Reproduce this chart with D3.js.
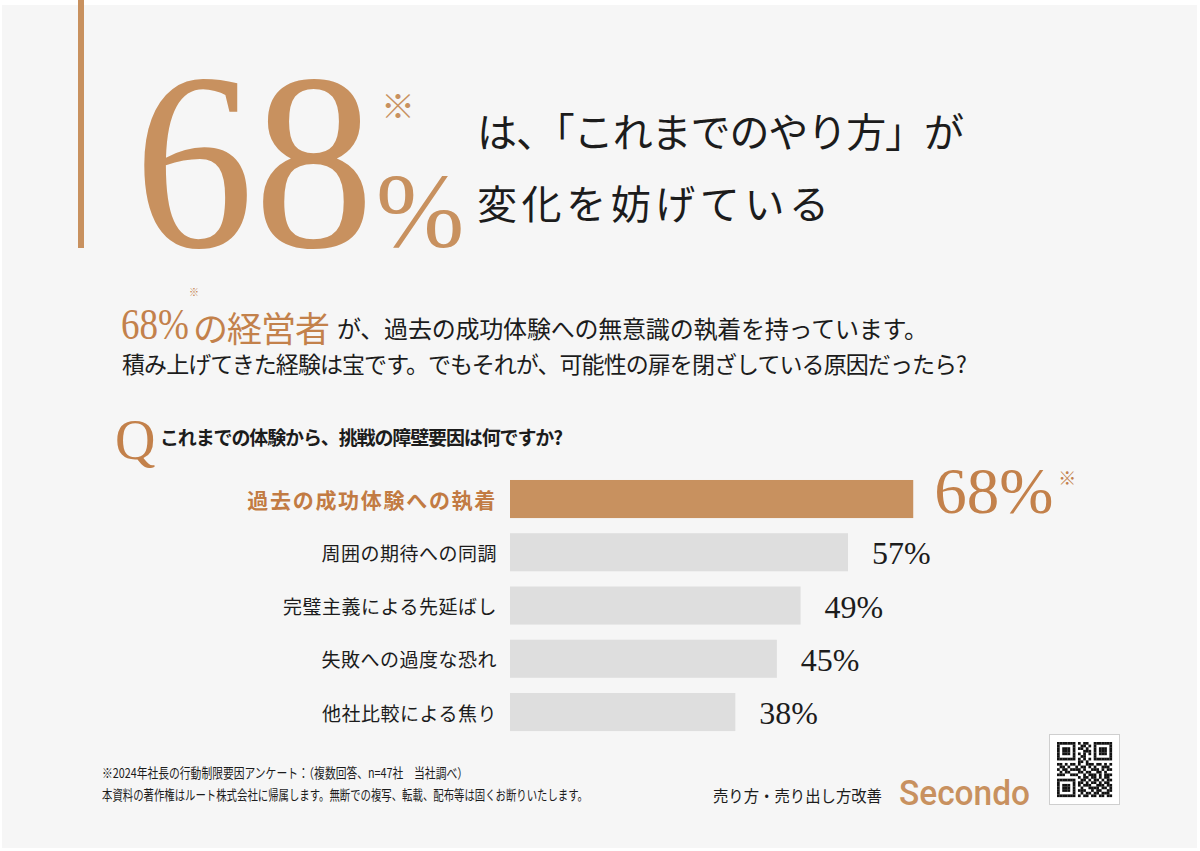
<!DOCTYPE html>
<html>
<head>
<meta charset="utf-8">
<script src="https://cdn.jsdelivr.net/npm/d3@7/dist/d3.min.js"></script>
<style>
  body { margin: 0; background: #ffffff; }
  svg { display: block; }
  .jp { font-family: "Noto Sans CJK JP", sans-serif; }
  .serif { font-family: "Liberation Serif", "DejaVu Serif", serif; }
</style>
</head>
<body>
<div id="chart"></div>
<script>
// survey answers (share of respondents, %)
var categories = [
  "過去の成功体験への執着",
  "周囲の期待への同調",
  "完璧主義による先延ばし",
  "失敗への過度な恐れ",
  "他社比較による焦り"
];
var values = [68, 57, 49, 45, 38];
var highlighted = [true, false, false, false, false];

var titleLines = ["は、「これまでのやり方」が", "変化を妨げている"];
var leadLines = ["が、過去の成功体験への無意識の執着を持っています。",
                 "積み上げてきた経験は宝です。でもそれが、可能性の扉を閉ざしている原因だったら?"];
var question = "これまでの体験から、挑戦の障壁要因は何ですか?";
var notes = ["※2024年社長の行動制限要因アンケート：（複数回答、n=47社　当社調べ）",
             "本資料の著作権はルート株式会社に帰属します。無断での複写、転載、配布等は固くお断りいたします。"];

// decorative code block in the corner
var qrRows = [
  "111111101011001111111",
  "100000100110101000001",
  "101110101101001011101",
  "101110100011101011101",
  "101110101010101011101",
  "100000100110001000001",
  "111111101010101111111",
  "000000001101000000000",
  "110101101001110110101",
  "011010010110101001110",
  "101101111010011101011",
  "010110001101100110100",
  "111001110010111010111",
  "000000001011011010110",
  "111111100110101101011",
  "100000101101011010110",
  "101110101011100111011",
  "101110100100111101101",
  "101110101110010110011",
  "100000100101101101110",
  "111111101011011011011"
];

var W = 1200, H = 851;
var orange = "#c8915f",
    orangeText = "#c3814b",
    grey = "#dedede",
    ink = "#1c1c1c";

var svg = d3.select("#chart").append("svg")
    .attr("width", W)
    .attr("height", H);

// card background
svg.append("rect")
    .attr("x", 2).attr("y", 5)
    .attr("width", W - 5).attr("height", 843)
    .attr("fill", "#f6f6f6");

// left accent rule
svg.append("rect")
    .attr("x", 78).attr("y", 0)
    .attr("width", 6).attr("height", 248)
    .attr("fill", orange);

// big headline number
var topValue = values[0];
svg.append("text")
    .attr("class", "serif")
    .attr("x", 134).attr("y", 247)
    .attr("font-size", 252)
    .attr("fill", orange)
    .attr("textLength", 240)
    .attr("lengthAdjust", "spacingAndGlyphs")
    .text(topValue);

svg.append("text")
    .attr("class", "serif")
    .attr("x", 376).attr("y", 247)
    .attr("font-size", 106)
    .attr("fill", orange)
    .text("%");

svg.append("text")
    .attr("class", "jp")
    .attr("x", 398).attr("y", 104)
    .attr("text-anchor", "middle")
    .attr("dominant-baseline", "central")
    .attr("font-size", 34)
    .attr("fill", orange)
    .text("※");

svg.selectAll("text.title")
    .data(titleLines)
    .enter()
    .append("text")
    .attr("class", "title jp")
    .attr("x", 477)
    .attr("y", (d, i) => 130 + i * 72)
    .attr("dominant-baseline", "central")
    .attr("font-size", 40)
    .attr("fill", ink)
    .attr("textLength", (d, i) => i === 0 ? 487 : 352)
    .attr("lengthAdjust", "spacing")
    .text(d => d);

// lead paragraph
svg.append("text")
    .attr("class", "serif")
    .attr("x", 121).attr("y", 339)
    .attr("font-size", 44)
    .attr("fill", orangeText)
    .attr("textLength", 68)
    .attr("lengthAdjust", "spacingAndGlyphs")
    .text(topValue + "%");

svg.append("text")
    .attr("class", "jp")
    .attr("x", 189).attr("y", 291)
    .attr("dominant-baseline", "central")
    .attr("font-size", 10)
    .attr("fill", orangeText)
    .text("※");

svg.append("text")
    .attr("class", "jp")
    .attr("x", 193).attr("y", 326)
    .attr("dominant-baseline", "central")
    .attr("font-size", 35)
    .attr("fill", orangeText)
    .attr("textLength", 137)
    .attr("lengthAdjust", "spacing")
    .text("の経営者");

svg.selectAll("text.lead")
    .data(leadLines)
    .enter()
    .append("text")
    .attr("class", "lead jp")
    .attr("x", (d, i) => i === 0 ? 337 : 122)
    .attr("y", (d, i) => i === 0 ? 327 : 363)
    .attr("dominant-baseline", "central")
    .attr("font-size", (d, i) => i === 0 ? 24 : 23)
    .attr("fill", ink)
    .attr("textLength", (d, i) => i === 0 ? 591 : 845)
    .attr("lengthAdjust", "spacing")
    .text(d => d);

// question
svg.append("text")
    .attr("class", "serif")
    .attr("x", 115).attr("y", 459)
    .attr("font-size", 56)
    .attr("fill", orangeText)
    .text("Q");

svg.append("text")
    .attr("class", "jp")
    .attr("x", 160).attr("y", 436)
    .attr("dominant-baseline", "central")
    .attr("font-size", 19)
    .attr("font-weight", 700)
    .attr("fill", ink)
    .attr("textLength", 403)
    .attr("lengthAdjust", "spacing")
    .text(question);

// bar chart
var x = d3.scaleLinear()
    .domain([0, 100])
    .range([510, 1103]);

var y = d3.scaleBand()
    .domain(categories)
    .range([472.4, 738.65])
    .paddingInner(0.285)
    .paddingOuter(0.1425);

var rows = categories.map((c, i) => ({ cat: c, value: values[i], hi: highlighted[i] }));

var bars = svg.append("g").attr("class", "bars");

bars.selectAll("rect.bar")
    .data(rows)
    .enter()
    .append("rect")
    .attr("class", "bar")
    .attr("x", x(0))
    .attr("y", d => y(d.cat))
    .attr("width", d => x(d.value) - x(0))
    .attr("height", y.bandwidth())
    .attr("fill", d => d.hi ? orange : grey);

bars.selectAll("text.cat")
    .data(rows)
    .enter()
    .append("text")
    .attr("class", "cat jp")
    .attr("x", x(0) - 13)
    .attr("y", d => y(d.cat) + y.bandwidth() / 2)
    .attr("text-anchor", "end")
    .attr("dominant-baseline", "central")
    .attr("font-size", d => d.hi ? 21 : 19)
    .attr("letter-spacing", d => d.hi ? 1.7 : 0.5)
    .attr("font-weight", d => d.hi ? 700 : 400)
    .attr("fill", d => d.hi ? "#c27b43" : ink)
    .text(d => d.cat);

bars.selectAll("text.val")
    .data(rows)
    .enter()
    .append("text")
    .attr("class", "val serif")
    .attr("x", d => x(d.value) + (d.hi ? 21 : 24))
    .attr("y", d => y(d.cat) + y.bandwidth() / 2 + (d.hi ? 14 : 12))
    .attr("font-size", d => d.hi ? 65 : 32)
    .attr("fill", d => d.hi ? orangeText : ink)
    .text(d => d.value + "%");

// footnote mark next to the highlighted value
rows.filter(d => d.hi).forEach(d => {
  bars.append("text")
      .attr("class", "jp")
      .attr("x", x(d.value) + 145)
      .attr("y", y(d.cat) - 3)
      .attr("dominant-baseline", "central")
      .attr("font-size", 18)
      .attr("fill", orangeText)
      .text("※");
});

// footer
svg.selectAll("text.note")
    .data(notes)
    .enter()
    .append("text")
    .attr("class", "note jp")
    .attr("x", 102)
    .attr("y", (d, i) => 772 + i * 22)
    .attr("dominant-baseline", "central")
    .attr("font-size", 13.5)
    .attr("fill", ink)
    .attr("textLength", (d, i) => i === 0 ? 366 : 486)
    .attr("lengthAdjust", "spacingAndGlyphs")
    .text(d => d);

svg.append("text")
    .attr("class", "jp")
    .attr("x", 713).attr("y", 795)
    .attr("dominant-baseline", "central")
    .attr("font-size", 16)
    .attr("fill", ink)
    .attr("textLength", 169)
    .attr("lengthAdjust", "spacingAndGlyphs")
    .text("売り方・売り出し方改善");

svg.append("text")
    .attr("x", 899).attr("y", 805)
    .attr("font-family", "Roboto, sans-serif")
    .attr("font-weight", 500)
    .attr("font-size", 35)
    .attr("fill", orange)
    .attr("textLength", 131)
    .attr("lengthAdjust", "spacingAndGlyphs")
    .text("Secondo");

// code box
var qr = svg.append("g").attr("transform", "translate(1049,734)");
qr.append("rect")
    .attr("x", 0.5).attr("y", 0.5)
    .attr("width", 70).attr("height", 70)
    .attr("fill", "#ffffff")
    .attr("stroke", "#cfcfcf");

var cell = 2.62;
var cells = [];
qrRows.forEach((r, i) => {
  r.split("").forEach((b, j) => { if (b === "1") cells.push([i, j]); });
});
qr.selectAll("rect.m")
    .data(cells)
    .enter()
    .append("rect")
    .attr("class", "m")
    .attr("x", d => 8 + d[1] * cell)
    .attr("y", d => 8 + d[0] * cell)
    .attr("width", cell + 0.1)
    .attr("height", cell + 0.1)
    .attr("fill", "#111");
</script>
</body>
</html>
